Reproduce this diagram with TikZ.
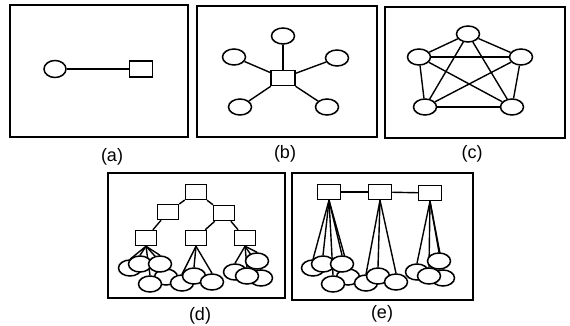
\documentclass[tikz,border=0pt]{standalone}
\usepackage{fontspec}
\setmainfont{Liberation Sans}
\usetikzlibrary{shapes.geometric,backgrounds}
\begin{document}
\begin{tikzpicture}[x=1pt,y=-1pt,
  frame/.style={line width=1.7pt},
  ell/.style={ellipse,draw,fill=white,line width=1.5pt,minimum width=23pt,minimum height=16pt,inner sep=0pt},
  sell/.style={ellipse,draw,fill=white,line width=1.5pt,minimum width=23pt,minimum height=16pt,inner sep=0pt},
  box/.style={rectangle,draw,fill=white,line width=1.5pt,minimum width=23pt,minimum height=15pt,inner sep=0pt},
  sbox/.style={box,minimum width=21pt},
  edge/.style={line width=1.4pt},
  lab/.style={font=\fontsize{18}{20}\selectfont,inner sep=0pt}]
\useasboundingbox (0,0) rectangle (570,326);

% frames
\draw[frame] (10,5) rectangle (188,137);
\draw[frame] (197,6) rectangle (377,137);
\draw[frame] (385,7) rectangle (565,138);
\draw[frame] (108,173) rectangle (285,298);
\draw[frame] (292,173) rectangle (473,300);

% labels
\node[lab] (la) at (112,157) {(a)};
\node[lab] (lb) at (285,154) {(b)};
\node[lab] (lc) at (472,154) {(c)};
\node[lab] (ld) at (200,316) {(d)};
\node[lab] (le) at (382,314) {(e)};

% (a)
\node[ell,minimum width=22pt,minimum height=17pt] (a1) at (55,69) {};
\node[box,minimum height=16pt] (a2) at (141,69) {};
\begin{scope}[on background layer]
\draw[edge] (a1) -- (a2);
\end{scope}

% (b)
\node[box,minimum width=24pt] (b0) at (283,78) {};
\node[ell] (b1) at (283,36) {};
\node[ell] (b2) at (234,57) {};
\node[ell] (b3) at (337,58) {};
\node[ell] (b4) at (240,107) {};
\node[ell] (b5) at (327,107) {};
\begin{scope}[on background layer]
\foreach \i in {1,...,5} \draw[edge] (b0) -- (b\i);
\end{scope}

% (c)
\node[ell] (c1) at (468,34) {};
\node[ell] (c2) at (419,57) {};
\node[ell] (c3) at (521,57) {};
\node[ell] (c4) at (425,107) {};
\node[ell] (c5) at (512,107) {};
\begin{scope}[on background layer]
\foreach \i/\j in {1/2,1/3,1/4,1/5,2/3,2/4,2/5,3/4,3/5,4/5} \draw[edge] (c\i) -- (c\j);
\end{scope}

% (d) tree
\node[sbox] (d1) at (196,192) {};
\node[sbox] (d2) at (168,212) {};
\node[sbox] (d3) at (224,213) {};
\node[sbox] (d4) at (146,238) {};
\node[sbox] (d5) at (196,238) {};
\node[sbox] (d6) at (245,238) {};
% left cluster
\node[sell] (dl1) at (130,268) {};
\node[sell] (dl5) at (166,277) {};
\node[sell] (dl2) at (140,264) {};
\node[sell] (dl3) at (160,264) {};
\node[sell] (dl4) at (150,284) {};
% middle cluster
\node[sell] (dm1) at (182,283) {};
\node[sell] (dm2) at (194,276) {};
\node[sell] (dm3) at (212,282) {};
% right cluster
\node[sell] (dr1) at (257,261) {};
\node[sell] (dr4) at (261,278) {};
\node[sell] (dr2) at (235,272) {};
\node[sell] (dr3) at (247,276) {};
\begin{scope}[on background layer]
\draw[edge] (d1) -- (d2);
\draw[edge] (d1) -- (d3);
\draw[edge] (d2) -- (d4);
\draw[edge] (d3) -- (d5);
\draw[edge] (d3) -- (d6);
\foreach \i in {1,...,5} \draw[edge] (d4.south) -- (dl\i.north);
\foreach \i in {1,2,3} \draw[edge] (d5.south) -- (dm\i.north);
\foreach \i in {1,...,4} \draw[edge] (d6.south) -- (dr\i.north);
\end{scope}

% (e)
\node[box] (e1) at (329,192) {};
\node[box] (e2) at (380,192) {};
\node[box] (e3) at (430,193) {};
% left cluster
\node[sell] (el1) at (313,268) {};
\node[sell] (el5) at (348,277) {};
\node[sell] (el2) at (323,264) {};
\node[sell] (el3) at (342,264) {};
\node[sell] (el4) at (333,284) {};
% middle cluster
\node[sell] (em1) at (366,283) {};
\node[sell] (em2) at (378,276) {};
\node[sell] (em3) at (396,282) {};
% right cluster
\node[sell] (er1) at (439,261) {};
\node[sell] (er4) at (443,278) {};
\node[sell] (er2) at (417,272) {};
\node[sell] (er3) at (429,276) {};
\begin{scope}[on background layer]
\draw[edge] (e1) -- (e2);
\draw[edge] (e2) -- (e3);
\foreach \i in {1,...,5} \draw[edge] (e1.south) -- (el\i.north);
\foreach \i in {1,2,3} \draw[edge] (e2.south) -- (em\i.north);
\foreach \i in {1,...,4} \draw[edge] (e3.south) -- (er\i.north);
\end{scope}
\end{tikzpicture}
\end{document}
